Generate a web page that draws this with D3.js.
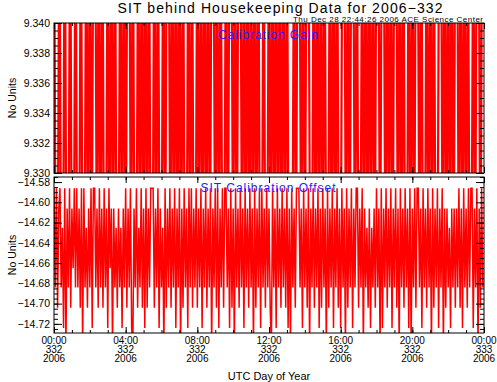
<!DOCTYPE html>
<html>
<head>
<meta charset="utf-8">
<script src="https://cdn.jsdelivr.net/npm/d3@7/dist/d3.min.js"></script>
<style>
  body { margin: 0; background: #fff; }
  svg text { font-family: "Liberation Sans", Arial, sans-serif; }
</style>
</head>
<body>
<svg id="chart" width="497" height="382"></svg>
<script>
const titleText = "SIT behind Housekeeping Data for 2006\u2212332";
const stampText = "Thu Dec 28 22:44:26 2006 ACE Science Center";
const gainName = "Calibration Gain";
const offsetName = "SIT Calibration Offset";
const yLabel = "No Units";
const xLabel = "UTC Day of Year";

// x axis (hours of day 332)
const hourTicks = [0, 4, 8, 12, 16, 20, 24];
const hourLabels = ["00:00", "04:00", "08:00", "12:00", "16:00", "20:00", "00:00"];
const dayLabels = ["332", "332", "332", "332", "332", "332", "333"];
const yearLabels = ["2006", "2006", "2006", "2006", "2006", "2006", "2006"];
const gainMinutes = 6;
const offsetMinutes = 4;

const gainTicks = [9.330, 9.332, 9.334, 9.336, 9.338, 9.340];
const offsetTicks = [-14.58, -14.60, -14.62, -14.64, -14.66, -14.68, -14.70, -14.72];

// gain jumps outside the plotted window on almost every sample
const gainValues = [
  9.35,9.32,9.32,9.35,9.32,9.32,9.35,9.32,9.32,9.35,9.32,9.32,9.35,9.32,9.32,9.35,9.32,9.32,9.35,9.32,
  9.35,9.32,9.35,9.35,9.32,9.35,9.32,9.35,9.32,9.32,9.35,9.32,9.35,9.32,9.35,9.32,9.32,9.35,9.32,9.35,
  9.32,9.35,9.35,9.32,9.35,9.32,9.32,9.35,9.32,9.35,9.32,9.35,9.32,9.35,9.32,9.32,9.35,9.32,9.35,9.32,
  9.32,9.35,9.32,9.35,9.35,9.32,9.35,9.32,9.35,9.32,9.35,9.32,9.35,9.32,9.32,9.35,9.32,9.35,9.32,9.32,
  9.35,9.32,9.35,9.32,9.35,9.32,9.35,9.32,9.35,9.35,9.32,9.35,9.32,9.35,9.32,9.32,9.35,9.32,9.35,9.35,
  9.32,9.35,9.32,9.35,9.35,9.32,9.35,9.32,9.35,9.32,9.35,9.32,9.35,9.32,9.35,9.32,9.32,9.35,9.32,9.32,
  9.35,9.32,9.35,9.32,9.35,9.32,9.35,9.32,9.35,9.32,9.35,9.32,9.32,9.32,9.35,9.32,9.35,9.35,9.32,9.35,
  9.32,9.35,9.35,9.32,9.32,9.35,9.32,9.35,9.32,9.35,9.32,9.35,9.32,9.32,9.35,9.32,9.35,9.32,9.35,9.32,
  9.32,9.35,9.35,9.32,9.35,9.32,9.35,9.35,9.32,9.35,9.32,9.32,9.35,9.32,9.35,9.32,9.35,9.32,9.35,9.32,
  9.35,9.35,9.32,9.35,9.35,9.32,9.35,9.32,9.35,9.32,9.35,9.35,9.32,9.35,9.32,9.35,9.32,9.32,9.35,9.32,
  9.35,9.32,9.35,9.35,9.32,9.35,9.32,9.32,9.35,9.32,9.35,9.32,9.35,9.32,9.32,9.35,9.35,9.32,9.35,9.32,
  9.35,9.32,9.35,9.32,9.35,9.35,9.32,9.35,9.32,9.35,9.32,9.35,9.32,9.32,9.35,9.32,9.35,9.35,9.32,9.35
];

const offsetValues = [
  -14.586,-14.684,-14.586,-14.704,-14.606,-14.586,-14.684,-14.625,-14.724,-14.586,-14.743,-14.606,-14.684,-14.586,-14.704,-14.606,-14.665,-14.586,-14.684,-14.586,
  -14.684,-14.606,-14.704,-14.586,-14.743,-14.586,-14.684,-14.625,-14.704,-14.606,-14.684,-14.586,-14.724,-14.586,-14.586,-14.684,-14.606,-14.704,-14.586,-14.684,
  -14.606,-14.704,-14.586,-14.684,-14.606,-14.724,-14.586,-14.665,-14.606,-14.743,-14.606,-14.684,-14.625,-14.704,-14.606,-14.684,-14.625,-14.724,-14.606,-14.684,
  -14.586,-14.704,-14.606,-14.684,-14.586,-14.724,-14.743,-14.606,-14.684,-14.586,-14.704,-14.625,-14.684,-14.586,-14.704,-14.606,-14.724,-14.586,-14.704,-14.606,
  -14.684,-14.586,-14.586,-14.586,-14.704,-14.606,-14.684,-14.586,-14.724,-14.606,-14.684,-14.625,-14.743,-14.586,-14.704,-14.606,-14.684,-14.586,-14.704,-14.606,
  -14.684,-14.586,-14.724,-14.606,-14.684,-14.586,-14.743,-14.606,-14.704,-14.586,-14.684,-14.606,-14.724,-14.586,-14.684,-14.586,-14.704,-14.606,-14.684,-14.586,
  -14.704,-14.606,-14.684,-14.586,-14.724,-14.606,-14.684,-14.586,-14.704,-14.606,-14.684,-14.586,-14.743,-14.606,-14.684,-14.586,-14.704,-14.586,-14.724,-14.606,
  -14.684,-14.586,-14.704,-14.586,-14.586,-14.684,-14.606,-14.724,-14.586,-14.704,-14.606,-14.743,-14.586,-14.684,-14.606,-14.704,-14.586,-14.684,-14.606,-14.724,
  -14.586,-14.684,-14.606,-14.704,-14.586,-14.684,-14.606,-14.743,-14.586,-14.704,-14.606,-14.684,-14.586,-14.724,-14.586,-14.684,-14.606,-14.704,-14.586,-14.684,
  -14.606,-14.704,-14.743,-14.586,-14.684,-14.606,-14.724,-14.586,-14.684,-14.606,-14.704,-14.586,-14.684,-14.606,-14.704,-14.586,-14.724,-14.606,-14.743,-14.586,
  -14.684,-14.606,-14.704,-14.586,-14.586,-14.586,-14.684,-14.606,-14.724,-14.586,-14.684,-14.606,-14.704,-14.586,-14.743,-14.606,-14.684,-14.586,-14.704,-14.606,
  -14.684,-14.586,-14.724,-14.606,-14.704,-14.586,-14.684,-14.606,-14.743,-14.586,-14.704,-14.606,-14.684,-14.586,-14.724,-14.606,-14.684,-14.586,-14.704,-14.606,
  -14.724,-14.586,-14.684,-14.606,-14.743,-14.586,-14.704,-14.606,-14.684,-14.586,-14.724,-14.606,-14.684,-14.586,-14.586,-14.704,-14.606,-14.684,-14.586,-14.743,
  -14.606,-14.684,-14.625,-14.704,-14.606,-14.724,-14.625,-14.684,-14.606,-14.704,-14.586,-14.684,-14.606,-14.743,-14.586,-14.724,-14.606,-14.684,-14.586,-14.704,
  -14.606,-14.684,-14.586,-14.724,-14.606,-14.684,-14.586,-14.704,-14.606,-14.743,-14.586,-14.684,-14.606,-14.704,-14.586,-14.684,-14.606,-14.724,-14.586,-14.743,
  -14.606,-14.684,-14.586,-14.704,-14.586,-14.586,-14.684,-14.606,-14.724,-14.586,-14.684,-14.606,-14.704,-14.586,-14.684,-14.606,-14.743,-14.586,-14.704,-14.606,
  -14.684,-14.586,-14.724,-14.606,-14.684,-14.586,-14.743,-14.606,-14.704,-14.606,-14.684,-14.625,-14.724,-14.606,-14.684,-14.606,-14.704,-14.606,-14.684,-14.586,
  -14.704,-14.606,-14.724,-14.586,-14.684,-14.606,-14.704,-14.586,-14.684,-14.586,-14.586,-14.724,-14.606,-14.684,-14.586,-14.743,-14.606,-14.704,-14.586,-14.684
];

const svg = d3.select("#chart");
const left = 54, right = 484;
const gainBox = { top: 23, bottom: 173 };
const offBox = { top: 177, bottom: 333 };

const x = d3.scaleLinear().domain([0, 24]).range([left, right]);
const yGain = d3.scaleLinear().domain([9.330, 9.340]).range([gainBox.bottom, gainBox.top]);
const yOff = d3.scaleLinear().domain([-14.729, -14.575]).range([offBox.bottom, offBox.top]);

// clip paths
const defs = svg.append("defs");
defs.append("clipPath").attr("id", "clipGain").append("rect")
  .attr("x", left).attr("y", gainBox.top).attr("width", right - left).attr("height", gainBox.bottom - gainBox.top);
defs.append("clipPath").attr("id", "clipOff").append("rect")
  .attr("x", left).attr("y", offBox.top).attr("width", right - left).attr("height", offBox.bottom - offBox.top);

// data lines
const gainLine = d3.line().x((d, i) => x((i * gainMinutes) / 60)).y(d => yGain(d));
svg.append("path")
  .datum(gainValues)
  .attr("clip-path", "url(#clipGain)")
  .attr("fill", "none")
  .attr("stroke", "#ff0000")
  .attr("stroke-width", 2.2)
  .attr("d", gainLine);

const offLine = d3.line().x((d, i) => x((i * offsetMinutes) / 60)).y(d => yOff(d));
svg.append("path")
  .datum(offsetValues)
  .attr("clip-path", "url(#clipOff)")
  .attr("fill", "none")
  .attr("stroke", "#ff0000")
  .attr("stroke-width", 1.5)
  .attr("d", offLine);

// axes + frame for one panel
function panel(box, y, ticks, minorStep, fmt) {
  const yMinor = [];
  const lo = d3.min(y.domain()), hi = d3.max(y.domain());
  for (let v = Math.ceil(lo / minorStep - 1e-6) * minorStep; v <= hi + 1e-9; v += minorStep) yMinor.push(v);

  const g = svg.append("g");
  g.append("g").attr("transform", `translate(${left},0)`)
    .call(d3.axisLeft(y).tickValues(ticks).tickSizeInner(-8).tickSizeOuter(0).tickPadding(4).tickFormat(fmt));
  g.append("g").attr("transform", `translate(${left},0)`)
    .call(d3.axisLeft(y).tickValues(yMinor).tickSizeInner(-4).tickSizeOuter(0).tickFormat(""));
  g.append("g").attr("transform", `translate(${right},0)`)
    .call(d3.axisRight(y).tickValues(ticks).tickSizeInner(-8).tickSizeOuter(0).tickFormat(""));
  g.append("g").attr("transform", `translate(${right},0)`)
    .call(d3.axisRight(y).tickValues(yMinor).tickSizeInner(-4).tickSizeOuter(0).tickFormat(""));

  const hourMinor = d3.range(0, 25, 1);
  g.append("g").attr("transform", `translate(0,${box.bottom})`)
    .call(d3.axisBottom(x).tickValues(hourTicks).tickSizeInner(-6).tickSizeOuter(0).tickFormat(""));
  g.append("g").attr("transform", `translate(0,${box.bottom})`)
    .call(d3.axisBottom(x).tickValues(hourMinor).tickSizeInner(-3).tickSizeOuter(0).tickFormat(""));
  g.append("g").attr("transform", `translate(0,${box.top})`)
    .call(d3.axisTop(x).tickValues(hourTicks).tickSizeInner(-6).tickSizeOuter(0).tickFormat(""));
  g.append("g").attr("transform", `translate(0,${box.top})`)
    .call(d3.axisTop(x).tickValues(hourMinor).tickSizeInner(-3).tickSizeOuter(0).tickFormat(""));

  g.selectAll(".domain").remove();
  g.selectAll(".tick line").attr("stroke", "#000");
  g.selectAll(".tick text").attr("font-size", 10.5).attr("fill", "#000")
    .style("font-family", "Liberation Sans, Arial, sans-serif");

  g.append("rect")
    .attr("x", left).attr("y", box.top)
    .attr("width", right - left).attr("height", box.bottom - box.top)
    .attr("fill", "none").attr("stroke", "#000").attr("stroke-width", 1);

  svg.append("text")
    .attr("transform", `translate(16,${(box.top + box.bottom) / 2}) rotate(-90)`)
    .attr("text-anchor", "middle")
    .attr("font-size", 10.5)
    .text(yLabel);
}

const minusFmt = d => d3.format(".2f")(d).replace("-", "\u2212");
panel(gainBox, yGain, gainTicks, 0.0005, d3.format(".3f"));
panel(offBox, yOff, offsetTicks, 0.005, minusFmt);

// panel names
svg.append("text").attr("x", 268).attr("y", 39).attr("text-anchor", "middle")
  .attr("font-size", 12).attr("fill", "#2222ff").attr("textLength", 100).text(gainName);
svg.append("text").attr("x", 268).attr("y", 192).attr("text-anchor", "middle")
  .attr("font-size", 12).attr("fill", "#2222ff").attr("textLength", 135).text(offsetName);

// x tick labels, three lines each
const xl = svg.append("g").attr("font-size", 10).attr("text-anchor", "middle");
hourTicks.forEach((h, i) => {
  xl.append("text").attr("x", x(h)).attr("y", 344).text(hourLabels[i]);
  xl.append("text").attr("x", x(h)).attr("y", 353).text(dayLabels[i]);
  xl.append("text").attr("x", x(h)).attr("y", 362).text(yearLabels[i]);
});

svg.append("text").attr("x", (left + right) / 2).attr("y", 380)
  .attr("text-anchor", "middle").attr("font-size", 11).text(xLabel);

// title and stamp
svg.append("text").attr("x", 280).attr("y", 13).attr("text-anchor", "middle")
  .attr("font-size", 14).attr("textLength", 325).attr("lengthAdjust", "spacing").text(titleText);
svg.append("text").attr("x", right - 1).attr("y", 21.5).attr("text-anchor", "end")
  .attr("font-size", 8).attr("textLength", 190).attr("lengthAdjust", "spacing").text(stampText);
</script>
</body>
</html>
